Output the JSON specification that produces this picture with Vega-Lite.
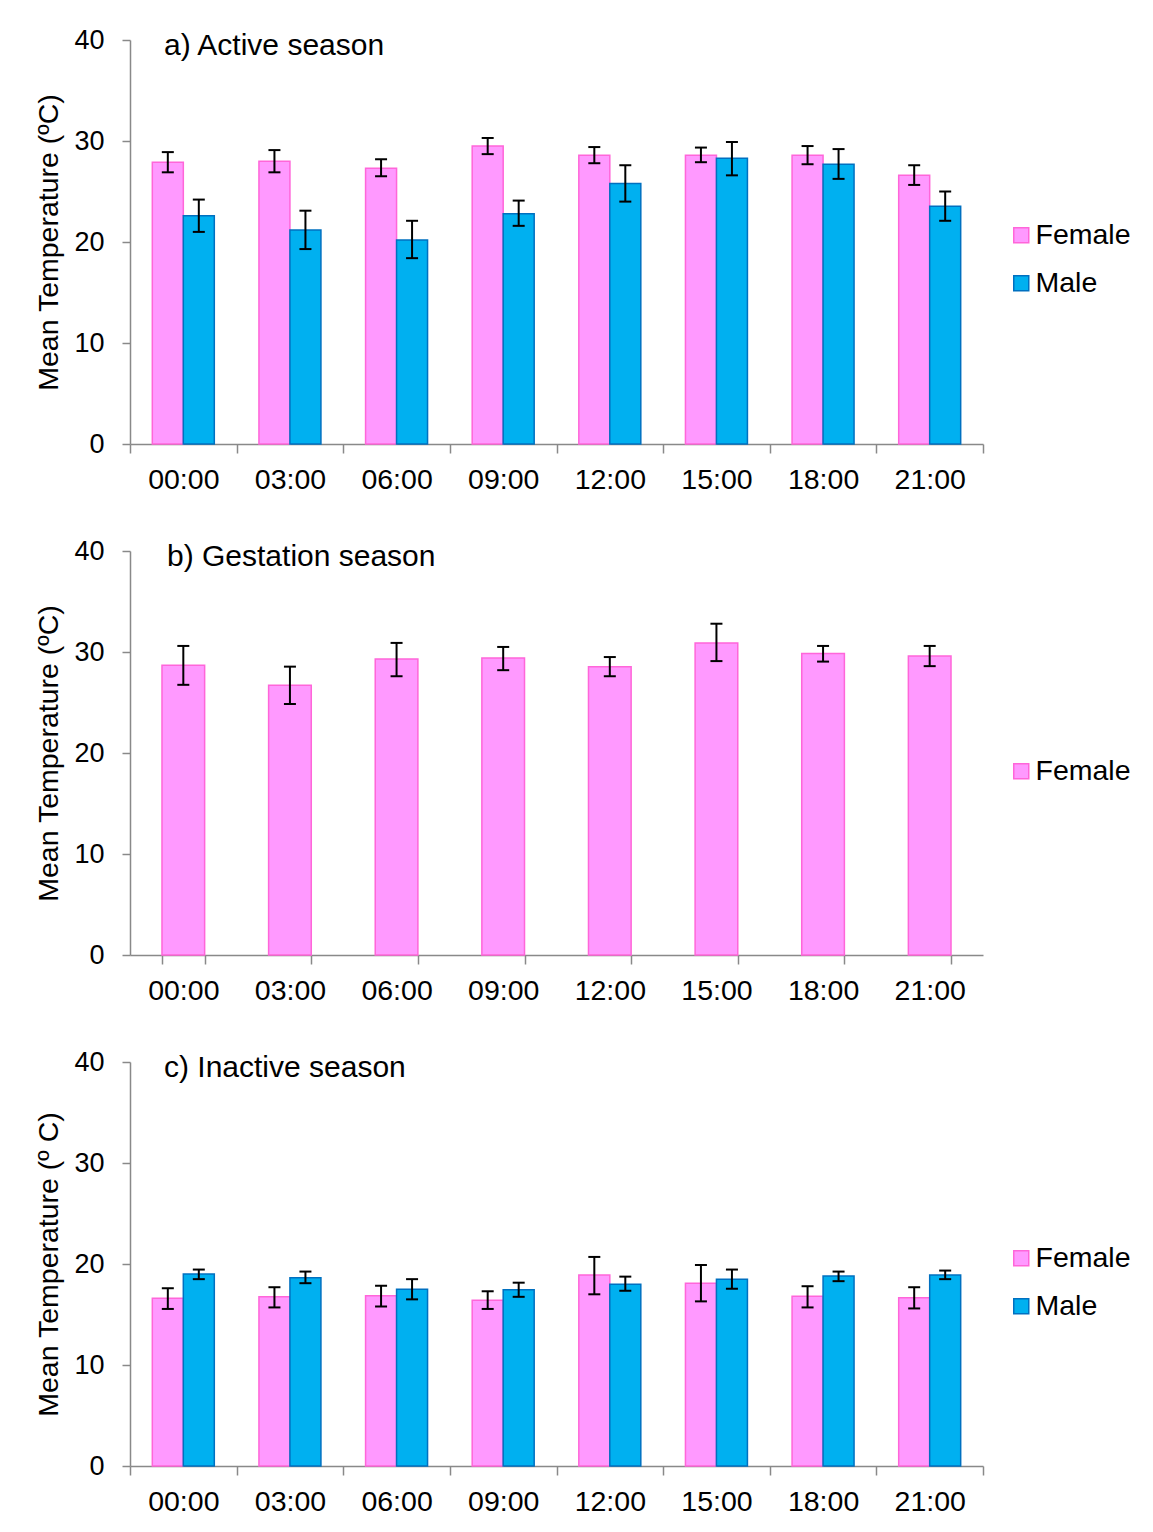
{
  "$schema": "https://vega.github.io/schema/vega-lite/v6.json",
  "padding": {"left": 34, "top": 26, "right": 5, "bottom": 5},
  "background": "white",
  "bounds": "flush",
  "spacing": 107,
  "config": {
    "font": "Liberation Sans",
    "view": {"stroke": null},
    "axis": {"domainColor": "#898989", "tickColor": "#898989", "domainWidth": 1.5, "tickWidth": 1.5, "labelColor": "black", "titleColor": "black", "grid": false},
    "axisY": {"tickSize": 8, "labelPadding": 18, "labelFontSize": 27, "titleFontSize": 28.5, "titleFontWeight": "normal", "titlePadding": 10},
    "axisX": {"labelAngle": 0, "labelFontSize": 28.5, "tickSize": 9, "tickBand": "extent", "labelPadding": 12},
    "legend": {"labelFontSize": 28.5, "symbolType": "square", "symbolSize": 225, "symbolStrokeWidth": 1.5, "labelOffset": 0, "rowPadding": 19},
    "title": {"font": "Liberation Sans", "fontWeight": "normal", "color": "black"}
  },
  "resolve": {"scale": {"fill": "independent", "stroke": "independent"}, "legend": {"fill": "independent", "stroke": "independent"}},
  "datasets": {
    "active": [
      {"time": "00:00", "sex": "Female", "mean": 27.9, "lo": 26.9, "hi": 28.9},
      {"time": "00:00", "sex": "Male", "mean": 22.6, "lo": 21.0, "hi": 24.2},
      {"time": "03:00", "sex": "Female", "mean": 28.0, "lo": 26.9, "hi": 29.1},
      {"time": "03:00", "sex": "Male", "mean": 21.2, "lo": 19.3, "hi": 23.1},
      {"time": "06:00", "sex": "Female", "mean": 27.3, "lo": 26.5, "hi": 28.2},
      {"time": "06:00", "sex": "Male", "mean": 20.2, "lo": 18.4, "hi": 22.1},
      {"time": "09:00", "sex": "Female", "mean": 29.5, "lo": 28.7, "hi": 30.3},
      {"time": "09:00", "sex": "Male", "mean": 22.8, "lo": 21.6, "hi": 24.1},
      {"time": "12:00", "sex": "Female", "mean": 28.6, "lo": 27.8, "hi": 29.4},
      {"time": "12:00", "sex": "Male", "mean": 25.8, "lo": 24.0, "hi": 27.6},
      {"time": "15:00", "sex": "Female", "mean": 28.6, "lo": 27.9, "hi": 29.35},
      {"time": "15:00", "sex": "Male", "mean": 28.3, "lo": 26.6, "hi": 29.9},
      {"time": "18:00", "sex": "Female", "mean": 28.6, "lo": 27.7, "hi": 29.5},
      {"time": "18:00", "sex": "Male", "mean": 27.7, "lo": 26.25, "hi": 29.2},
      {"time": "21:00", "sex": "Female", "mean": 26.6, "lo": 25.65, "hi": 27.6},
      {"time": "21:00", "sex": "Male", "mean": 23.55, "lo": 22.1, "hi": 25.0}
    ],
    "gestation": [
      {"time": "00:00", "sex": "Female", "mean": 28.7, "lo": 26.75, "hi": 30.6},
      {"time": "03:00", "sex": "Female", "mean": 26.7, "lo": 24.85, "hi": 28.55},
      {"time": "06:00", "sex": "Female", "mean": 29.3, "lo": 27.6, "hi": 30.9},
      {"time": "09:00", "sex": "Female", "mean": 29.4, "lo": 28.2, "hi": 30.5},
      {"time": "12:00", "sex": "Female", "mean": 28.55, "lo": 27.6, "hi": 29.5},
      {"time": "15:00", "sex": "Female", "mean": 30.9, "lo": 29.1, "hi": 32.8},
      {"time": "18:00", "sex": "Female", "mean": 29.85, "lo": 29.05, "hi": 30.6},
      {"time": "21:00", "sex": "Female", "mean": 29.6, "lo": 28.6, "hi": 30.6}
    ],
    "inactive": [
      {"time": "00:00", "sex": "Female", "mean": 16.6, "lo": 15.55, "hi": 17.6},
      {"time": "00:00", "sex": "Male", "mean": 19.0, "lo": 18.5, "hi": 19.45},
      {"time": "03:00", "sex": "Female", "mean": 16.75, "lo": 15.7, "hi": 17.7},
      {"time": "03:00", "sex": "Male", "mean": 18.65, "lo": 18.1, "hi": 19.25},
      {"time": "06:00", "sex": "Female", "mean": 16.85, "lo": 15.8, "hi": 17.85},
      {"time": "06:00", "sex": "Male", "mean": 17.5, "lo": 16.5, "hi": 18.5},
      {"time": "09:00", "sex": "Female", "mean": 16.4, "lo": 15.55, "hi": 17.3},
      {"time": "09:00", "sex": "Male", "mean": 17.45, "lo": 16.75, "hi": 18.15},
      {"time": "12:00", "sex": "Female", "mean": 18.9, "lo": 17.0, "hi": 20.7},
      {"time": "12:00", "sex": "Male", "mean": 18.0, "lo": 17.35, "hi": 18.75},
      {"time": "15:00", "sex": "Female", "mean": 18.1, "lo": 16.3, "hi": 19.9},
      {"time": "15:00", "sex": "Male", "mean": 18.5, "lo": 17.55, "hi": 19.45},
      {"time": "18:00", "sex": "Female", "mean": 16.8, "lo": 15.7, "hi": 17.8},
      {"time": "18:00", "sex": "Male", "mean": 18.8, "lo": 18.3, "hi": 19.25},
      {"time": "21:00", "sex": "Female", "mean": 16.65, "lo": 15.6, "hi": 17.7},
      {"time": "21:00", "sex": "Male", "mean": 18.9, "lo": 18.5, "hi": 19.35}
    ]
  },
  "vconcat": [
    {
      "width": 853, "height": 404,
      "data": {"name": "active"},
      "title": {"text": "a) Active season", "anchor": "start", "orient": "top", "frame": "group", "offset": 0, "dx": 34, "dy": 59, "baseline": "alphabetic", "fontSize": 30},
      "encoding": {
        "x": {"field": "time", "type": "nominal", "sort": null, "scale": {"paddingInner": 0, "paddingOuter": 0}, "axis": {"title": null}},
        "xOffset": {"field": "sex", "type": "nominal", "sort": ["Female", "Male"], "scale": {"paddingInner": 0, "paddingOuter": 0.72}}
      },
      "layer": [
        {
          "mark": {"type": "bar", "strokeWidth": 1.5},
          "encoding": {
            "y": {"field": "mean", "type": "quantitative", "scale": {"domain": [0, 40]}, "axis": {"title": "Mean Temperature (ºC)", "values": [0, 10, 20, 30, 40]}},
            "fill": {"field": "sex", "type": "nominal", "scale": {"domain": ["Female", "Male"], "range": ["#FF99FF", "#00B0F0"]},
                     "legend": {"title": null, "orient": "none", "legendX": 877, "legendY": 181}},
            "stroke": {"field": "sex", "type": "nominal", "scale": {"domain": ["Female", "Male"], "range": ["#FF66D9", "#0070C0"]},
                     "legend": {"title": null, "orient": "none", "legendX": 877, "legendY": 181}}
          }
        },
        {"mark": {"type": "rule", "color": "black", "strokeWidth": 2}, "encoding": {"y": {"field": "lo", "type": "quantitative", "axis": {"title": "Mean Temperature (ºC)", "values": [0, 10, 20, 30, 40]}}, "y2": {"field": "hi"}}},
        {"mark": {"type": "tick", "color": "black", "thickness": 2, "size": 12, "opacity": 1}, "encoding": {"y": {"field": "lo", "type": "quantitative", "axis": {"title": "Mean Temperature (ºC)", "values": [0, 10, 20, 30, 40]}}}},
        {"mark": {"type": "tick", "color": "black", "thickness": 2, "size": 12, "opacity": 1}, "encoding": {"y": {"field": "hi", "type": "quantitative", "axis": {"title": "Mean Temperature (ºC)", "values": [0, 10, 20, 30, 40]}}}}
      ]
    },
    {
      "width": 853, "height": 404,
      "data": {"name": "gestation"},
      "title": {"text": "b) Gestation season", "anchor": "start", "orient": "top", "frame": "group", "offset": 0, "dx": 37, "dy": 59, "baseline": "alphabetic", "fontSize": 30},
      "encoding": {
        "x": {"field": "time", "type": "nominal", "sort": null, "scale": {"paddingInner": 0.6, "paddingOuter": 0.3}, "axis": {"title": null}}
      },
      "layer": [
        {
          "mark": {"type": "bar", "strokeWidth": 1.5},
          "encoding": {
            "y": {"field": "mean", "type": "quantitative", "scale": {"domain": [0, 40]}, "axis": {"title": "Mean Temperature (ºC)", "values": [0, 10, 20, 30, 40]}},
            "fill": {"field": "sex", "type": "nominal", "scale": {"domain": ["Female"], "range": ["#FF99FF"]},
                     "legend": {"title": null, "orient": "none", "legendX": 877, "legendY": 206}},
            "stroke": {"field": "sex", "type": "nominal", "scale": {"domain": ["Female"], "range": ["#FF66D9"]},
                     "legend": {"title": null, "orient": "none", "legendX": 877, "legendY": 206}}
          }
        },
        {"mark": {"type": "rule", "color": "black", "strokeWidth": 2}, "encoding": {"y": {"field": "lo", "type": "quantitative", "axis": {"title": "Mean Temperature (ºC)", "values": [0, 10, 20, 30, 40]}}, "y2": {"field": "hi"}}},
        {"mark": {"type": "tick", "color": "black", "thickness": 2, "size": 12, "opacity": 1}, "encoding": {"y": {"field": "lo", "type": "quantitative", "axis": {"title": "Mean Temperature (ºC)", "values": [0, 10, 20, 30, 40]}}}},
        {"mark": {"type": "tick", "color": "black", "thickness": 2, "size": 12, "opacity": 1}, "encoding": {"y": {"field": "hi", "type": "quantitative", "axis": {"title": "Mean Temperature (ºC)", "values": [0, 10, 20, 30, 40]}}}}
      ]
    },
    {
      "width": 853, "height": 404,
      "data": {"name": "inactive"},
      "title": {"text": "c) Inactive season", "anchor": "start", "orient": "top", "frame": "group", "offset": 0, "dx": 34, "dy": 59, "baseline": "alphabetic", "fontSize": 30},
      "encoding": {
        "x": {"field": "time", "type": "nominal", "sort": null, "scale": {"paddingInner": 0, "paddingOuter": 0}, "axis": {"title": null}},
        "xOffset": {"field": "sex", "type": "nominal", "sort": ["Female", "Male"], "scale": {"paddingInner": 0, "paddingOuter": 0.72}}
      },
      "layer": [
        {
          "mark": {"type": "bar", "strokeWidth": 1.5},
          "encoding": {
            "y": {"field": "mean", "type": "quantitative", "scale": {"domain": [0, 40]}, "axis": {"title": "Mean Temperature (º C)", "values": [0, 10, 20, 30, 40]}},
            "fill": {"field": "sex", "type": "nominal", "scale": {"domain": ["Female", "Male"], "range": ["#FF99FF", "#00B0F0"]},
                     "legend": {"title": null, "orient": "none", "legendX": 877, "legendY": 182}},
            "stroke": {"field": "sex", "type": "nominal", "scale": {"domain": ["Female", "Male"], "range": ["#FF66D9", "#0070C0"]},
                     "legend": {"title": null, "orient": "none", "legendX": 877, "legendY": 182}}
          }
        },
        {"mark": {"type": "rule", "color": "black", "strokeWidth": 2}, "encoding": {"y": {"field": "lo", "type": "quantitative", "axis": {"title": "Mean Temperature (º C)", "values": [0, 10, 20, 30, 40]}}, "y2": {"field": "hi"}}},
        {"mark": {"type": "tick", "color": "black", "thickness": 2, "size": 12, "opacity": 1}, "encoding": {"y": {"field": "lo", "type": "quantitative", "axis": {"title": "Mean Temperature (º C)", "values": [0, 10, 20, 30, 40]}}}},
        {"mark": {"type": "tick", "color": "black", "thickness": 2, "size": 12, "opacity": 1}, "encoding": {"y": {"field": "hi", "type": "quantitative", "axis": {"title": "Mean Temperature (º C)", "values": [0, 10, 20, 30, 40]}}}}
      ]
    }
  ]
}
